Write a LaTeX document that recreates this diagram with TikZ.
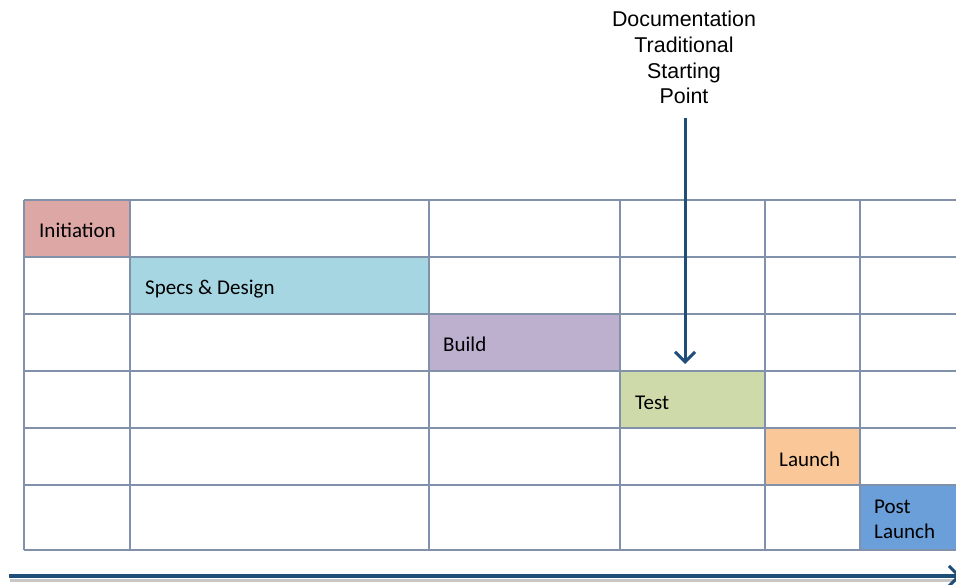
\documentclass[tikz,border=0pt]{standalone}
\usepackage{fontspec}
\setmainfont{Carlito}
\newfontfamily\arialfont{Liberation Sans}
\usetikzlibrary{arrows.meta}
\definecolor{gridline}{HTML}{8291AA}
\definecolor{arrowblue}{HTML}{1F4E79}
\definecolor{initcol}{HTML}{DDA7A5}
\definecolor{specscol}{HTML}{A5D6E2}
\definecolor{buildcol}{HTML}{BDAFCE}
\definecolor{testcol}{HTML}{CFDAAB}
\definecolor{launchcol}{HTML}{FAC898}
\definecolor{postcol}{HTML}{6A9FDA}
\tikzset{
  phase/.style={anchor=base west, inner sep=0pt, font=\fontsize{21}{25}\selectfont, align=left},
  gridrule/.style={draw=gridline, line width=1.7pt},
  barb/.style={-{Straight Barb[length=10pt,width=20pt,line width=3pt]}},
}
\begin{document}
\begin{tikzpicture}[x=1pt,y=-1pt]
\useasboundingbox (0,0) rectangle (956,585);
% phase cells
\fill[initcol] (24,200) rectangle (130,257);
\fill[specscol] (130,257) rectangle (429,314);
\fill[buildcol] (429,314) rectangle (620,371);
\fill[testcol] (620,371) rectangle (765,428);
\fill[launchcol] (765,428) rectangle (860,485);
\fill[postcol] (860,485) rectangle (960,550);
% grid
\foreach \y in {200,257,314,371,428,485,550}
  \draw[gridrule] (24,\y) -- (960,\y);
\foreach \x in {24,130,429,620,765,860}
  \draw[gridrule] (\x,200) -- (\x,550);
% labels
\node[phase] (init) at (39,238) {Initiation};
\node[phase] (specs) at (145,295) {Specs \& Design};
\node[phase] (build) at (443,352) {Build};
\node[phase] (test) at (635,409) {Test};
\node[phase] (launch) at (779,466) {Launch};
\node[phase] (post) at (874,538) {Post\\Launch};
% documentation arrow
\node[font=\arialfont\fontsize{21.4}{25.7}\selectfont, align=center, inner sep=0pt, anchor=north] (doc) at (684,11) {Documentation\\Traditional\\Starting\\Point};
\coordinate (docstart) at (685,118);
\coordinate (docend) at (685,364);
\draw[arrowblue, line width=3pt, barb] (docstart) -- (docend);
% timeline
\coordinate (tlstart) at (9,576);
\coordinate (tlend) at (961,576);
\draw[black!22, line width=3pt] (10,580) -- (958,580);
\draw[arrowblue, line width=3.4pt, barb] (tlstart) -- (tlend);
\end{tikzpicture}
\end{document}
